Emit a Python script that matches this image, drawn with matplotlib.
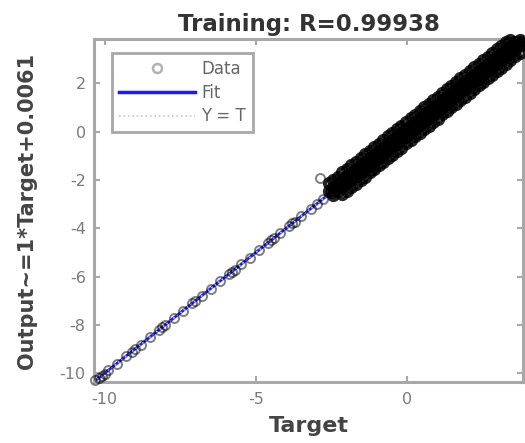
import matplotlib
matplotlib.use("Agg")
import matplotlib.pyplot as plt
from matplotlib.lines import Line2D

# regression result: R value and fitted line Output = a*Target + b
r_value = 0.99938
fit_slope = 1.0
fit_offset = 0.0061
axis_min = -10.35
axis_max = 3.81

# sparse samples along the low end of the range
sparse_target = [-10.3, -10.2, -10.1, -10.0, -9.9, -9.6, -9.3, -9.1, -9.0, -8.8,
                 -8.5, -8.2, -8.1, -8.0, -7.7, -7.4, -7.1, -7.0, -6.8, -6.5,
                 -6.2, -5.9, -5.8, -5.7, -5.5, -5.2, -4.9, -4.6, -4.5, -4.4,
                 -4.2, -3.9, -3.8, -3.7, -3.5, -3.2, -3.0, -2.8]
sparse_output = [-10.28, -10.18, -10.09, -10.02, -9.88, -9.61, -9.28, -9.12, -8.98, -8.81,
                 -8.49, -8.22, -8.09, -8.01, -7.69, -7.42, -7.09, -7.01, -6.79, -6.52,
                 -6.19, -5.91, -5.79, -5.72, -5.49, -5.21, -4.88, -4.61, -4.49, -4.42,
                 -4.19, -3.91, -3.79, -3.72, -3.49, -3.21, -2.99, -2.79]

# dense samples, written row by row
band_target = [
    -2.6, -2.45, -2.3, -2.15, -2.0, -1.85, -1.7, -1.55, -1.4, -1.25, -1.1, -0.95, -0.8, -0.65,
    -0.5, -0.35, -0.2, -0.05, 0.1, 0.25, 0.4, 0.55, 0.7, 0.85, 1.0, 1.15, 1.3, 1.45, 1.6, 1.75,
    1.9, 2.05, 2.2, 2.35, 2.5, 2.65, 2.8, 2.95, 3.1, 3.25, 3.4,
    -2.6, -2.45, -2.3, -2.15, -2.0, -1.85, -1.7, -1.55, -1.4, -1.25, -1.1, -0.95, -0.8, -0.65,
    -0.5, -0.35, -0.2, -0.05, 0.1, 0.25, 0.4, 0.55, 0.7, 0.85, 1.0, 1.15, 1.3, 1.45, 1.6, 1.75,
    1.9, 2.05, 2.2, 2.35, 2.5, 2.65, 2.8, 2.95, 3.1, 3.25, 3.4, 3.55, 3.7,
    -2.45, -2.3, -2.15, -2.0, -1.85, -1.7, -1.55, -1.4, -1.25, -1.1, -0.95, -0.8, -0.65,
    -0.5, -0.35, -0.2, -0.05, 0.1, 0.25, 0.4, 0.55, 0.7, 0.85, 1.0, 1.15, 1.3, 1.45, 1.6, 1.75,
    1.9, 2.05, 2.2, 2.35, 2.5, 2.65, 2.8, 2.95, 3.1, 3.25, 3.4, 3.55, 3.7,
    -2.15, -2.0, -1.85, -1.7, -1.55, -1.4, -1.25, -1.1, -0.95, -0.8, -0.65,
    -0.5, -0.35, -0.2, -0.05, 0.1, 0.25, 0.4, 0.55, 0.7, 0.85, 1.0, 1.15, 1.3, 1.45, 1.6, 1.75,
    1.9, 2.05, 2.2, 2.35, 2.5, 2.65, 2.8, 2.95, 3.1, 3.25, 3.4, 3.55, 3.7,
    -2.5, -2.3, -2.1, -1.9, -1.7, -1.5, -1.3, -1.1, -0.9, -0.7, -0.5, -0.3, -0.1,
    0.1, 0.3, 0.5, 0.7, 0.9, 1.1, 1.3, 1.5, 1.7, 1.9, 2.1, 2.3, 2.5, 2.7, 2.9, 3.1, 3.3, 3.5, 3.7,
]
band_output = [
    -2.12, -1.99, -1.86, -1.69, -1.56, -1.40, -1.25, -1.11, -0.94, -0.81, -0.64, -0.50, -0.35, -0.19,
    -0.06, 0.11, 0.25, 0.40, 0.56, 0.69, 0.85, 1.00, 1.16, 1.29, 1.45, 1.61, 1.74, 1.90, 2.05, 2.20,
    2.34, 2.50, 2.66, 2.79, 2.95, 3.10, 3.24, 3.40, 3.55, 3.69, 3.80,
    -2.44, -2.31, -2.14, -2.01, -1.84, -1.71, -1.54, -1.40, -1.26, -1.09, -0.95, -0.79, -0.66, -0.49,
    -0.36, -0.19, -0.06, 0.11, 0.24, 0.41, 0.54, 0.71, 0.84, 1.01, 1.14, 1.31, 1.44, 1.61, 1.74, 1.91,
    2.04, 2.21, 2.34, 2.51, 2.64, 2.81, 2.94, 3.11, 3.24, 3.41, 3.54, 3.71, 3.80,
    -2.61, -2.44, -2.31, -2.14, -2.01, -1.84, -1.71, -1.54, -1.41, -1.24, -1.11, -0.94, -0.81,
    -0.64, -0.51, -0.34, -0.21, -0.04, 0.09, 0.26, 0.39, 0.56, 0.69, 0.86, 0.99, 1.16, 1.29, 1.46, 1.59,
    1.76, 1.89, 2.06, 2.19, 2.36, 2.49, 2.66, 2.79, 2.96, 3.09, 3.26, 3.39, 3.56,
    -2.58, -2.46, -2.29, -2.16, -1.99, -1.86, -1.69, -1.56, -1.39, -1.26, -1.09,
    -0.96, -0.79, -0.66, -0.49, -0.36, -0.19, -0.06, 0.11, 0.24, 0.41, 0.54, 0.71, 0.84, 1.01, 1.14,
    1.31, 1.44, 1.61, 1.74, 1.91, 2.04, 2.21, 2.34, 2.51, 2.64, 2.81, 2.94, 3.11, 3.24,
    -2.49, -2.31, -2.09, -1.91, -1.69, -1.52, -1.29, -1.11, -0.89, -0.71, -0.49, -0.31, -0.09,
    0.11, 0.29, 0.51, 0.69, 0.91, 1.09, 1.31, 1.49, 1.71, 1.89, 2.11, 2.29, 2.51, 2.69, 2.91, 3.09, 3.31, 3.49, 3.69,
]

# single stray sample just above the band
stray_target = [-2.9]
stray_output = [-1.9]

xticks = [-10, -5, 0]
yticks = [-10, -8, -6, -4, -2, 0, 2]

tick_grey = "#7a7a7a"
frame_grey = "#a8a8a8"

fig = plt.figure(figsize=(5.25, 4.43), dpi=100)
ax = fig.add_axes([0.179, 0.138, 0.817, 0.773])

# fit line and Y = T reference underneath the data
line_x = [axis_min, axis_max]
fit_y = [fit_slope * v + fit_offset for v in line_x]
ax.plot(line_x, fit_y, color="#1a1aff", lw=2.0, zorder=2)
ax.plot(line_x, line_x, color="#c8c8c8", lw=1.2, ls=":", zorder=2)

# open circles; where thousands of samples pile up the rings merge into a solid band
ax.plot(sparse_target + stray_target, sparse_output + stray_output, ls="none",
        marker="o", ms=6.5, mfc="none", mec=(0, 0, 0, 0.5), mew=1.4, zorder=3,
        clip_on=False)
ax.plot(band_target, band_output, ls="none", marker="o", ms=6.5, mfc="none",
        mec=(0, 0, 0, 0.85), mew=3.0, zorder=4, clip_on=False)

ax.set_xlim(axis_min, axis_max)
ax.set_ylim(axis_min, axis_max)
ax.set_xticks(xticks)
ax.set_yticks(yticks)
ax.set_xticklabels([str(t) for t in xticks])
ax.set_yticklabels([str(t) for t in yticks])
ax.tick_params(direction="in", length=4, width=1.5, color=frame_grey,
               labelcolor=tick_grey, labelsize=11.5, pad=6,
               top=True, right=True)
ax.tick_params(axis="x", pad=7)
for s in ax.spines.values():
    s.set_color(frame_grey)
    s.set_linewidth(2.2)

ax.set_title(f"Training: R={r_value}", fontsize=16.5, fontweight="bold",
             color="#333333", pad=6)
ax.set_xlabel("Target", fontsize=16, fontweight="bold", color="#444444", labelpad=7)
ax.set_ylabel(f"Output~={fit_slope:g}*Target+{fit_offset}", fontsize=15,
              fontweight="bold", color="#444444", labelpad=16)

handles = [
    Line2D([], [], ls="none", marker="o", ms=6.5, mfc="none", mec=(0, 0, 0, 0.3), mew=1.8),
    Line2D([], [], color="#1a1aff", lw=2.5),
    Line2D([], [], color="#c8c8c8", lw=1.2, ls=":"),
]
leg = ax.legend(handles, ["Data", "Fit", "Y = T"], loc="upper left",
                bbox_to_anchor=(0.042, 0.96), borderaxespad=0, fontsize=12,
                handlelength=4.6, handletextpad=0.35, labelspacing=0.35,
                borderpad=0.4, fancybox=False, framealpha=1, labelcolor="#666666")
leg.get_frame().set_edgecolor(frame_grey)
leg.get_frame().set_linewidth(2.0)

fig.savefig("out.png", dpi=100)
